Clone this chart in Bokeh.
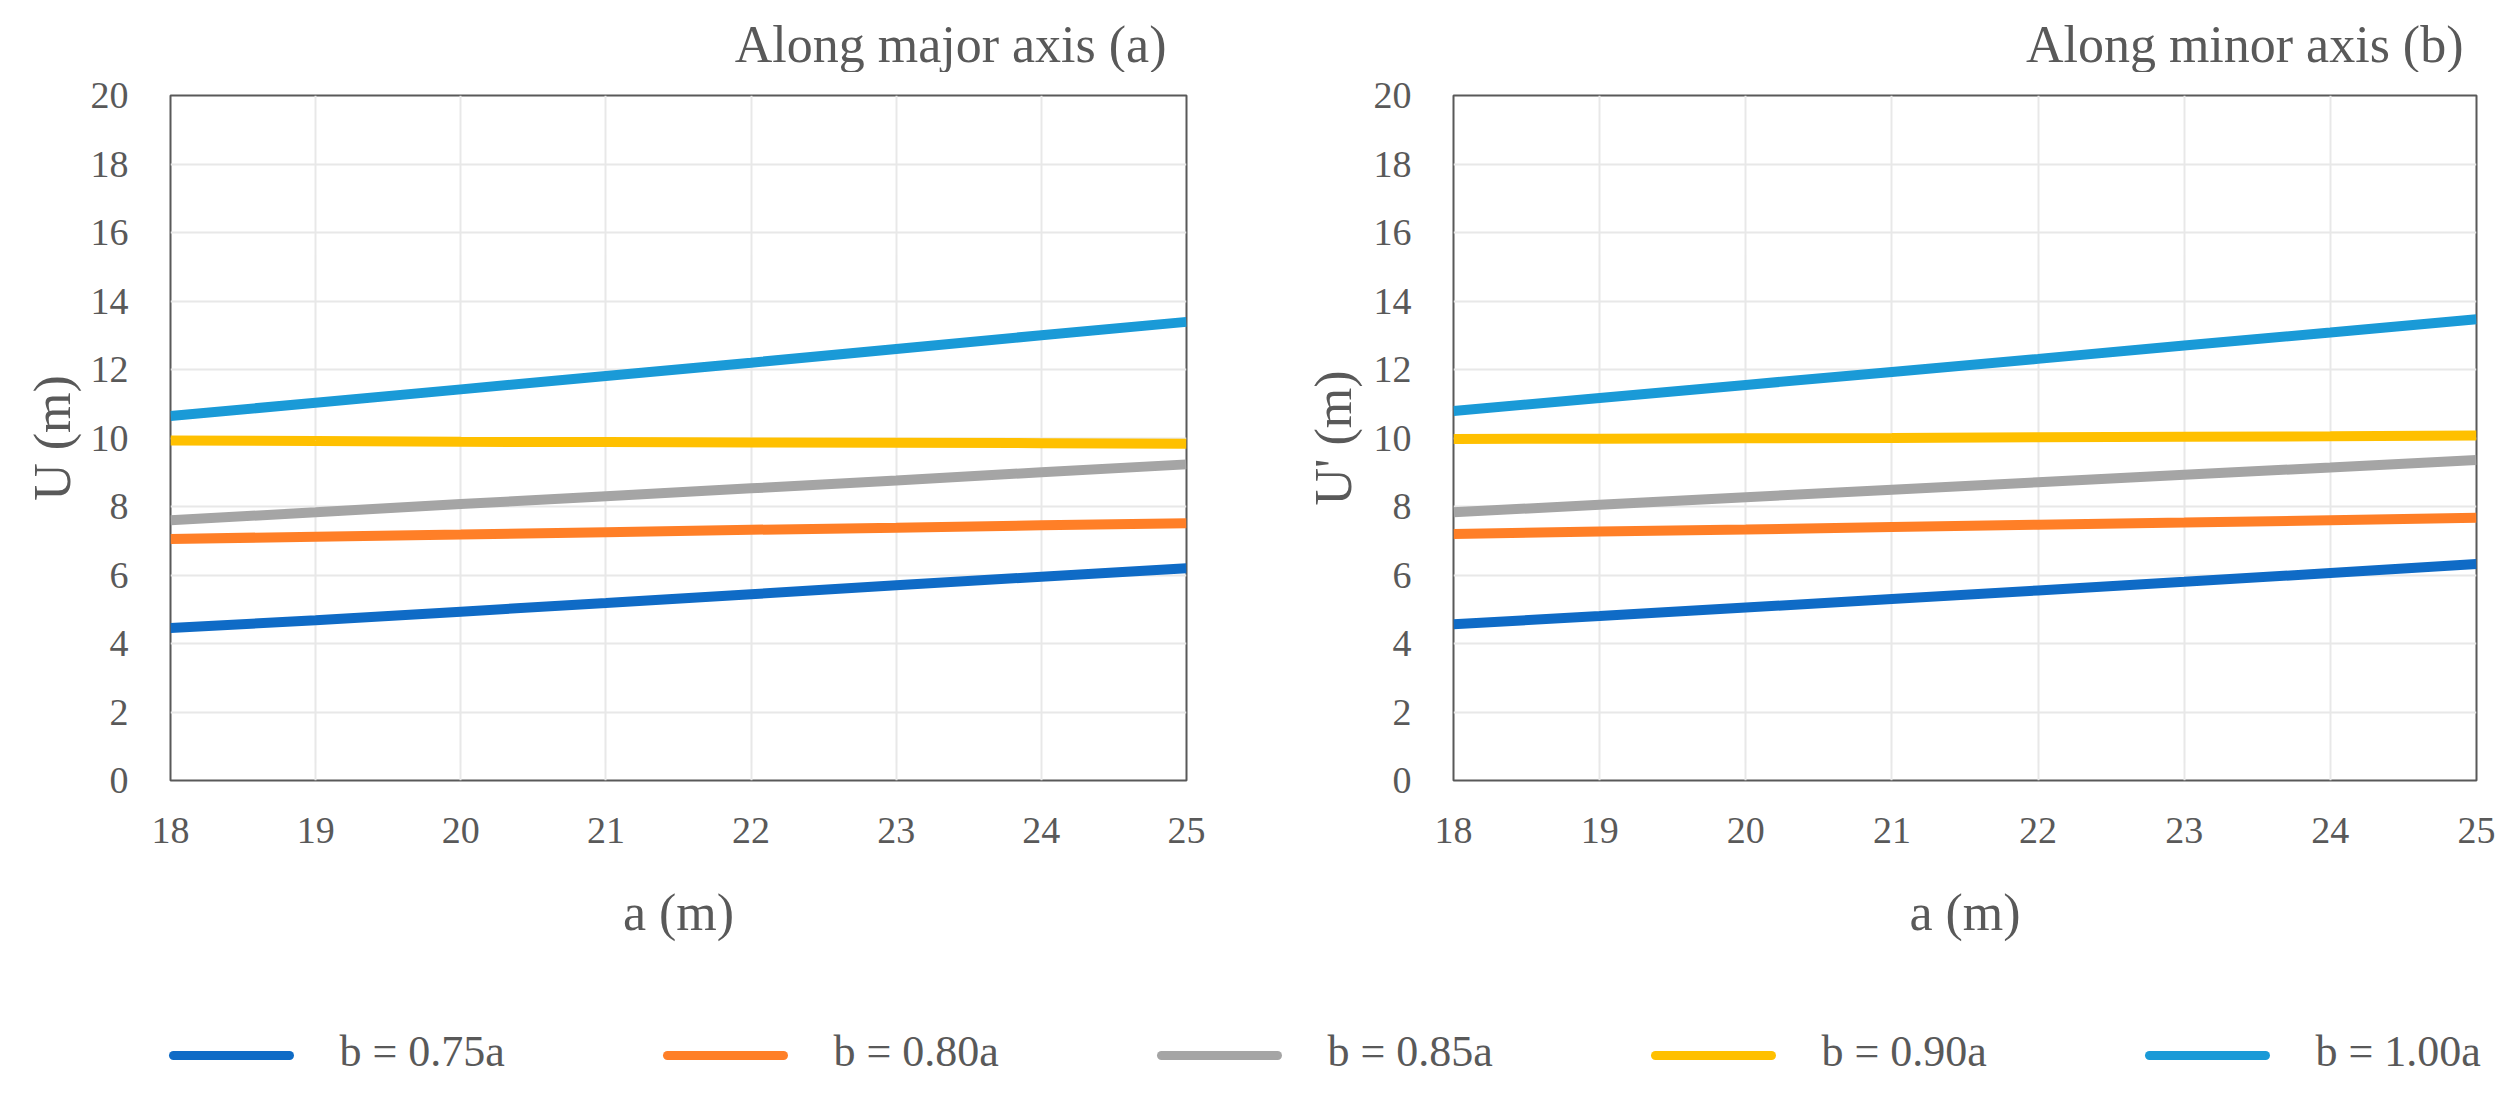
from bokeh.plotting import figure
from bokeh.layouts import column, row
from bokeh.models import Range1d, FixedTicker
from bokeh.core.properties import value
from bokeh.embed import file_html
from bokeh.resources import INLINE

# ---------------- data ----------------
a_values = [18, 19, 20, 21, 22, 23, 24, 25]
series_labels = ["b = 0.75a", "b = 0.80a", "b = 0.85a", "b = 0.90a", "b = 1.00a"]
panel_titles = ["Along major axis (a)", "Along minor axis (b)"]

# Along major axis (a): U (m)
major_075 = [4.45, 4.68, 4.93, 5.18, 5.44, 5.70, 5.95, 6.20]
major_080 = [7.05, 7.12, 7.18, 7.25, 7.32, 7.38, 7.45, 7.51]
major_085 = [7.60, 7.83, 8.07, 8.30, 8.53, 8.76, 9.00, 9.23]
major_090 = [9.93, 9.91, 9.89, 9.88, 9.87, 9.86, 9.85, 9.83]
major_100 = [10.64, 11.03, 11.42, 11.81, 12.20, 12.60, 13.00, 13.39]

# Along minor axis (b): U' (m)
minor_075 = [4.56, 4.80, 5.05, 5.30, 5.55, 5.80, 6.06, 6.32]
minor_080 = [7.20, 7.27, 7.33, 7.40, 7.47, 7.53, 7.60, 7.67]
minor_085 = [7.83, 8.05, 8.27, 8.49, 8.71, 8.93, 9.14, 9.36]
minor_090 = [9.97, 9.98, 9.99, 10.00, 10.02, 10.04, 10.05, 10.07]
minor_100 = [10.79, 11.17, 11.55, 11.93, 12.31, 12.70, 13.08, 13.47]

x_ticks = [18, 19, 20, 21, 22, 23, 24, 25]
y_ticks = [0, 2, 4, 6, 8, 10, 12, 14, 16, 18, 20]

# ---------------- style ----------------
COLORS = ["#0F6BC6", "#FF7F27", "#A5A5A5", "#FFC000", "#1A9AD7"]
FONT = "Liberation Serif"
TXT = "#595959"
TOTAL_W = 2499
TOP_H = 72


def make_panel(ylabel, series, width, bl, br, ylab_standoff):
    p = figure(width=width, height=968 - TOP_H, output_backend="svg", toolbar_location=None,
               x_range=Range1d(18, 25), y_range=Range1d(0, 20),
               min_border_left=bl, min_border_right=br,
               min_border_top=95 - TOP_H, min_border_bottom=188)

    p.outline_line_color = "#595959"
    p.outline_line_width = 2
    p.outline_line_alpha = 1.0
    p.background_fill_color = "white"
    p.border_fill_color = "white"

    for ax in (p.xaxis[0], p.yaxis[0]):
        ax.axis_line_color = None
        ax.major_tick_line_color = None
        ax.minor_tick_line_color = None
        ax.major_label_text_font = FONT
        ax.major_label_text_font_size = "38px"
        ax.major_label_text_color = TXT
        ax.axis_label_text_font = FONT
        ax.axis_label_text_font_size = "52px"
        ax.axis_label_text_font_style = "normal"
        ax.axis_label_text_color = TXT

    p.xaxis.ticker = FixedTicker(ticks=x_ticks)
    p.yaxis.ticker = FixedTicker(ticks=y_ticks)
    p.xaxis.major_label_standoff = 31
    p.yaxis.major_label_standoff = 36
    p.xaxis.axis_label = "a (m)"
    p.yaxis.axis_label = ylabel
    p.xaxis.axis_label_standoff = 38
    p.yaxis.axis_label_standoff = ylab_standoff

    p.xgrid.ticker = FixedTicker(ticks=x_ticks)
    p.ygrid.ticker = FixedTicker(ticks=y_ticks)
    for g in (p.xgrid[0], p.ygrid[0]):
        g.grid_line_color = "#E8E8E8"
        g.grid_line_width = 2

    for ys, c in zip(series, COLORS):
        p.line(a_values, ys, line_color=c, line_width=10)
    return p


p1 = make_panel("U (m)", [major_075, major_080, major_085, major_090, major_100],
                width=1300, bl=170, br=114, ylab_standoff=7)
p2 = make_panel("U' (m)", [minor_075, minor_080, minor_085, minor_090, minor_100],
                width=1199, bl=153, br=23, ylab_standoff=9)


def strip(h):
    f = figure(width=TOTAL_W, height=h, output_backend="svg", toolbar_location=None,
               x_range=Range1d(0, TOTAL_W), y_range=Range1d(0, h), min_border=0)
    f.axis.visible = False
    f.grid.visible = False
    f.outline_line_color = None
    return f


# ---------------- titles strip ----------------
top = strip(TOP_H)
top.text(x=[1166, 2463], y=[TOP_H - 44] * 2, text=panel_titles, text_font=value(FONT),
         text_font_size="52px", text_color=TXT, text_align="right",
         text_baseline="middle")

# ---------------- legend strip ----------------
LH = 130
leg = strip(LH)
x0 = [173 + i * 494 for i in range(len(series_labels))]
x1 = [x + 116 for x in x0]
tx = [x + 166 for x in x0]
ly = [43] * len(series_labels)
ty = [47] * len(series_labels)
leg.segment(x0=x0, y0=ly, x1=x1, y1=ly, line_color=COLORS, line_width=9, line_cap="round")
leg.text(x=tx, y=ty, text=series_labels, text_font=value(FONT), text_font_size="44px",
         text_color=TXT, text_baseline="middle", text_align="left")

layout = column(top, row(p1, p2), leg)
open("out.html", "w").write(file_html(layout, INLINE))
